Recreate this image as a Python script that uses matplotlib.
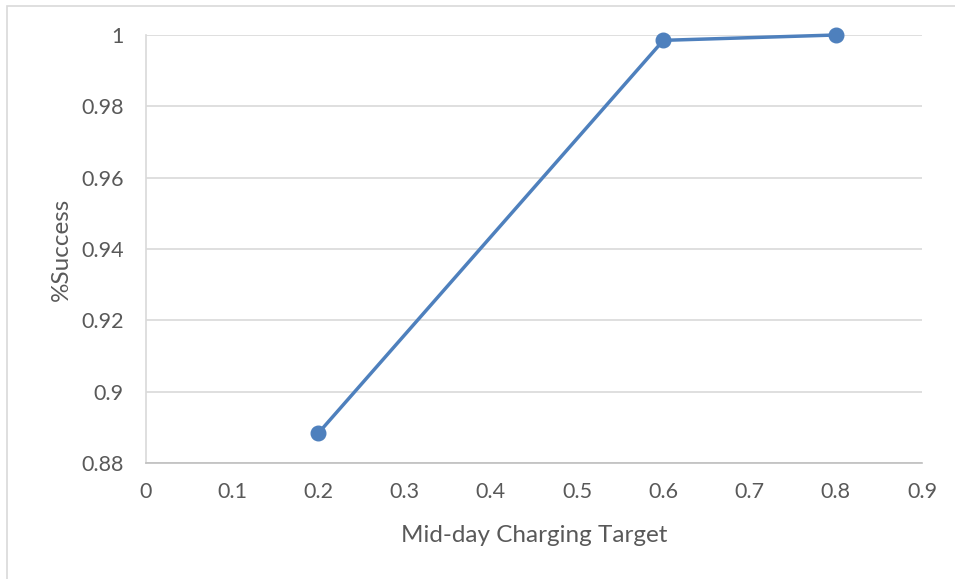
import matplotlib
matplotlib.use("Agg")
import matplotlib.pyplot as plt
from matplotlib.patches import Rectangle

plt.rcParams['font.family'] = ['Lato', 'DejaVu Sans']

# Mid-day charging target vs. success rate
targets = [0.2, 0.6, 0.8]
success = [0.8884, 0.9985, 1.0]

x_ticks = [0, 0.1, 0.2, 0.3, 0.4, 0.5, 0.6, 0.7, 0.8, 0.9]
y_ticks = [0.88, 0.9, 0.92, 0.94, 0.96, 0.98, 1.0]
y_tick_labels = ['0.88', '0.9', '0.92', '0.94', '0.96', '0.98', '1']
x_tick_labels = ['0', '0.1', '0.2', '0.3', '0.4', '0.5', '0.6', '0.7', '0.8', '0.9']

W, H = 955, 579
fig = plt.figure(figsize=(W / 100, H / 100), dpi=100)

# chart frame
fig.patches.append(Rectangle((6.5 / W, -0.1), 1.2, 1 - 5.5 / H + 0.1,
                             transform=fig.transFigure, fill=False,
                             edgecolor='#d9d9d9', linewidth=1.2))

ax = fig.add_axes([146 / W, 1 - 463 / H, (922 - 146) / W, (463 - 35) / H])

line_color = '#4e80bd'
ax.plot(targets, success, color=line_color, linewidth=2.5, marker='o',
        markersize=10.5, markerfacecolor=line_color, markeredgecolor=line_color,
        zorder=3, clip_on=False)

ax.set_xlim(0, 0.9)
ax.set_ylim(0.88, 1.0)
ax.set_xticks(x_ticks)
ax.set_xticklabels(x_tick_labels)
ax.set_yticks(y_ticks)
ax.set_yticklabels(y_tick_labels)

ax.grid(axis='y', color='#d9d9d9', linewidth=1.2)
ax.set_axisbelow(True)
for side in ['top', 'right']:
    ax.spines[side].set_visible(False)
ax.spines['left'].set_color('#d9d9d9')
ax.spines['bottom'].set_color('#bfbfbf')
ax.spines['left'].set_linewidth(1.2)
ax.spines['bottom'].set_linewidth(1.2)

ax.tick_params(axis='both', length=0, labelsize=15.5, labelcolor='#595959')
ax.tick_params(axis='x', pad=14)
ax.tick_params(axis='y', pad=16)

ax.set_xlabel('Mid-day Charging Target', fontsize=17.5, color='#595959', labelpad=16)
ax.set_ylabel('%Success', fontsize=17.5, color='#595959', labelpad=7)

fig.savefig('out.png', dpi=100, facecolor='white')
